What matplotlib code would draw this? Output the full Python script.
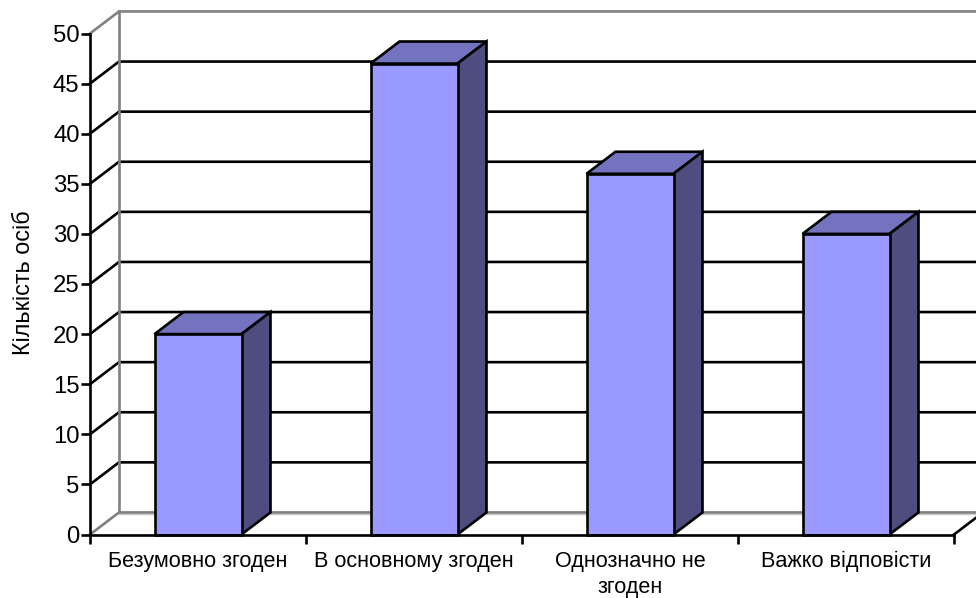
import matplotlib
matplotlib.use('Agg')
from matplotlib import pyplot as plt

categories = ['Безумовно згоден', 'В основному згоден', 'Однозначно не\nзгоден', 'Важко відповісти']
values = [20, 47, 36, 30]
y_ticks = [0, 5, 10, 15, 20, 25, 30, 35, 40, 45, 50]
y_label = 'Кількість осіб'

# depth of the fake 3d box, in data units
DX = 29 / 216
DY = 2.2
BAR_W = 87 / 216
FRONT = '#9999ff'
TOP = '#7373bf'
SIDE = '#4d4d80'
GREY = '#808080'
LW = 1.9

plt.rcParams['font.family'] = ['Liberation Sans', 'DejaVu Sans']

W, H = 976, 598
fig = plt.figure(figsize=(W / 100, H / 100), dpi=100)
ax = fig.add_axes([90 / W, (H - 534.5) / H, 864 / W, 501 / H])
ax.set_xlim(0, 4)
ax.set_ylim(0, 50)
ax.patch.set_visible(False)

# Back wall and grid
for y in y_ticks:
    col = GREY if y in (0, 50) else 'k'
    ax.plot([0, DX, 4 + DX], [y, y + DY, y + DY], color=col, lw=LW, clip_on=False, zorder=1,
            solid_joinstyle='miter')
ax.plot([4, 4 + DX], [0, DY], color='k', lw=LW, clip_on=False, zorder=1)
ax.plot([DX, DX], [DY, 50 + DY], color=GREY, lw=LW, clip_on=False, zorder=1.5)
ax.plot([DX, 4 + DX], [DY - 0.2, DY - 0.2], color='#c8c8c8', lw=1, clip_on=False, zorder=0.5)

# Bars
for i, v in enumerate(values):
    x0 = i + 0.5 - BAR_W / 2
    x1 = x0 + BAR_W
    ax.fill([x0, x1, x1 + DX, x0 + DX], [v, v, v + DY, v + DY], fc=TOP, ec='k', lw=LW, zorder=3,
            clip_on=False, joinstyle='miter')
    ax.fill([x1, x1 + DX, x1 + DX, x1], [0, DY, v + DY, v], fc=SIDE, ec='k', lw=LW, zorder=3,
            clip_on=False, joinstyle='miter')
    ax.fill([x0, x1, x1, x0], [0, 0, v, v], fc=FRONT, ec='k', lw=LW, zorder=4,
            clip_on=False, joinstyle='miter')

for s in ('top', 'right'):
    ax.spines[s].set_visible(False)
for s in ('left', 'bottom'):
    ax.spines[s].set_linewidth(LW)
    ax.spines[s].set_zorder(5)

ax.set_yticks(y_ticks)
ax.tick_params(axis='y', length=6.5, width=LW, labelsize=17.2, pad=1)
ax.set_xticks([0, 1, 2, 3, 4])
ax.set_xticklabels([])
ax.tick_params(axis='x', which='major', length=6.5, width=LW)
ax.set_xticks([i + 0.5 for i in range(4)], minor=True)
ax.set_xticklabels(categories, minor=True, fontsize=15.6, linespacing=1.3)
ax.tick_params(axis='x', which='minor', length=0, pad=12)

fig.text(24 / W, 1 - 283 / H, y_label, rotation=90, ha='center', va='center', fontsize=16.8)

fig.savefig('out.png', dpi=100)
